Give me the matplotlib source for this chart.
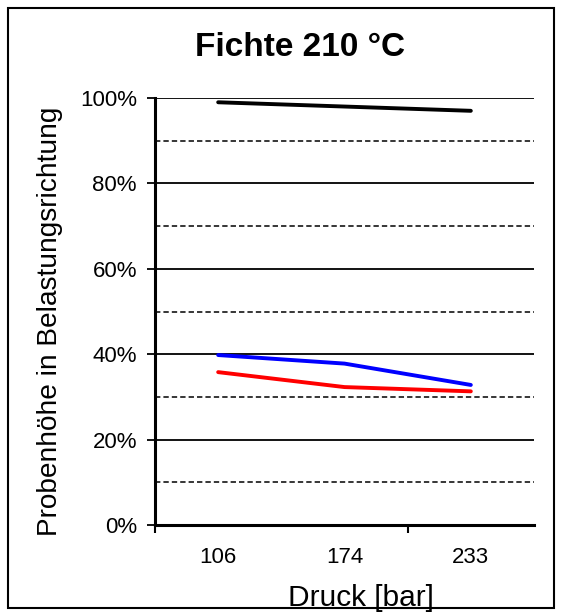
import matplotlib.pyplot as plt
from matplotlib.ticker import FixedLocator, FuncFormatter

plt.rcParams['font.family'] = ['Liberation Sans', 'DejaVu Sans']

# data
druck = ['106', '174', '233']
serie_schwarz = [0.99, 0.98, 0.97]
serie_blau = [0.398, 0.378, 0.328]
serie_rot = [0.358, 0.323, 0.313]

fig = plt.figure(figsize=(5.62, 6.16), dpi=100)

# outer frame of the chart
fig.patches.append(plt.Rectangle((8 / 562, 8 / 616), 546 / 562, 600 / 616,
                                 transform=fig.transFigure, fill=False,
                                 edgecolor='black', linewidth=1.5))

ax = fig.add_axes([155 / 562, 1 - 525 / 616, 379 / 562, 427 / 616])
x = range(len(druck))

# gridlines: solid every 20 %, dashed in between
for v in [0.2, 0.4, 0.6, 0.8, 1.0]:
    ax.axhline(v, color='black', linewidth=1.3, zorder=1)
for v in [0.1, 0.3, 0.5, 0.7, 0.9]:
    ax.axhline(v, color='black', linewidth=1.1, linestyle=(0, (3.5, 2)), zorder=1)

ax.plot(x, serie_schwarz, color='black', linewidth=2.8, solid_capstyle='round', zorder=3)
ax.plot(x, serie_blau, color='#0000ff', linewidth=2.8, solid_capstyle='round', zorder=3)
ax.plot(x, serie_rot, color='#ff0000', linewidth=2.8, solid_capstyle='round', zorder=3)

ax.set_xlim(-0.5, 2.5)
ax.set_ylim(0, 1.0)

for s in ['top', 'right']:
    ax.spines[s].set_visible(False)
ax.spines['left'].set_linewidth(2.2)
ax.spines['bottom'].set_linewidth(2.2)

ax.yaxis.set_major_locator(FixedLocator([0, 0.2, 0.4, 0.6, 0.8, 1.0]))
ax.yaxis.set_major_formatter(FuncFormatter(lambda v, p: f'{v * 100:.0f}%'))
ax.tick_params(axis='y', direction='out', length=6, width=1.3, labelsize=16, pad=7)

ax.set_xticks([-0.5, 1.5])
ax.set_xticklabels(['', ''])
ax.set_xticks(list(x), minor=True)
ax.set_xticklabels(druck, minor=True)
ax.tick_params(axis='x', which='major', direction='out', length=6, width=1.5)
ax.tick_params(axis='x', which='minor', length=0, labelsize=16, pad=16)

ax.set_xlabel('Druck [bar]', fontsize=21.5, va='center')
ax.set_ylabel('Probenhöhe in Belastungsrichtung', fontsize=20.2, va='center')
ax.xaxis.set_label_coords((361 - 155) / 379, (525 - 598) / 427)
ax.yaxis.set_label_coords((50 - 155) / 379, 0.5 - 10 / 427)

fig.text(300 / 562, 1 - 48 / 616, 'Fichte 210 °C', ha='center', va='center',
         fontsize=24, fontweight='bold')

fig.savefig('out.png', dpi=100)
